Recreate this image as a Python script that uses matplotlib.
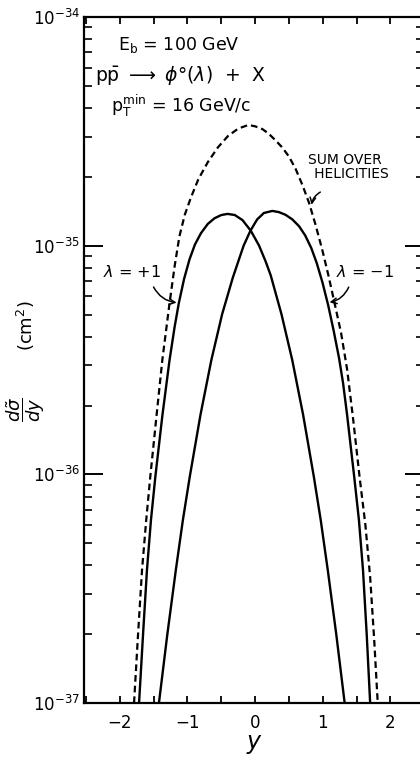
import numpy as np
import matplotlib
matplotlib.use("Agg")
import matplotlib.pyplot as plt

# rapidity distribution of phi0 production, p pbar at E_b = 100 GeV
# y values and log10(d sigma / dy)
y_sum = [-1.79, -1.735, -1.672, -1.61, -1.55, -1.46, -1.372, -1.265, -1.19, -1.12,
         -1.04, -0.95, -0.84, -0.70, -0.55, -0.40, -0.25, -0.10, 0.0, 0.107, 0.2,
         0.304, 0.40, 0.50, 0.60, 0.70, 0.80, 0.89, 0.99, 1.08, 1.17, 1.27, 1.36,
         1.45, 1.544, 1.63, 1.701, 1.76, 1.813]
lg_sum = [-37.0, -36.72, -36.418, -36.2, -36.01, -35.75, -35.5, -35.251, -35.09, -34.96,
          -34.865, -34.79, -34.71, -34.635, -34.57, -34.52, -34.488, -34.472, -34.478, -34.49, -34.51,
          -34.54, -34.57, -34.61, -34.665, -34.735, -34.815, -34.905, -35.015, -35.125, -35.245, -35.38, -35.54,
          -35.76, -36.01, -36.22, -36.45, -36.72, -37.0]

y_plus = [-1.716, -1.655, -1.599, -1.54, -1.475, -1.37, -1.265, -1.19, -1.128, -1.05,
          -0.97, -0.89, -0.80, -0.70, -0.60, -0.50, -0.407, -0.30, -0.187, -0.063, 0.059,
          0.157, 0.231, 0.39, 0.549, 0.71, 0.868, 0.97, 1.074, 1.2, 1.324]
lg_plus = [-37.0, -36.69, -36.418, -36.2, -36.01, -35.74, -35.5, -35.355, -35.251, -35.145,
           -35.06, -34.995, -34.945, -34.905, -34.88, -34.866, -34.861, -34.866, -34.888, -34.935, -35.0,
           -35.07, -35.13, -35.3, -35.5, -35.74, -36.01, -36.2, -36.418, -36.7, -37.0]

y_minus = [-1.422, -1.298, -1.172, -1.068, -0.966, -0.808, -0.647, -0.488, -0.33, -0.17,
           -0.07, 0.03, 0.13, 0.254, 0.35, 0.45, 0.55, 0.65, 0.74, 0.83, 0.91, 0.995,
           1.08, 1.16, 1.24, 1.30, 1.36, 1.465, 1.535, 1.595, 1.65, 1.701]
lg_minus = [-37.0, -36.7, -36.418, -36.2, -36.01, -35.74, -35.5, -35.3, -35.14, -35.0,
            -34.935, -34.885, -34.857, -34.848, -34.853, -34.865, -34.885, -34.915, -34.955, -35.01, -35.075, -35.16,
            -35.26, -35.37, -35.49, -35.6, -35.74, -36.01, -36.2, -36.418, -36.7, -37.0]

x_ticks = [-2, -1, 0, 1, 2]
y_ticks = [1e-37, 1e-36, 1e-35, 1e-34]
y_ticklabels = [r'$10^{-37}$', r'$10^{-36}$', r'$10^{-35}$', r'$10^{-34}$']

plt.rcParams['font.family'] = ['DejaVu Sans']
plt.rcParams['mathtext.fontset'] = 'dejavusans'

fig = plt.figure(figsize=(4.2, 7.6), dpi=100)
ax = fig.add_axes([0.2, 0.075, 0.81, 0.9026])

ax.plot(y_sum, 10.0 ** np.array(lg_sum), color='black', lw=1.6, ls=(0, (3, 1.8)))
ax.plot(y_plus, 10.0 ** np.array(lg_plus), color='black', lw=1.7)
ax.plot(y_minus, 10.0 ** np.array(lg_minus), color='black', lw=1.7)

ax.set_yscale('log')
ax.set_xlim(-2.53, 2.47)
ax.set_ylim(1e-37, 1e-34)

for s in ax.spines.values():
    s.set_linewidth(1.6)

ax.set_xticks(x_ticks)
ax.set_xticklabels(['\u22122', '\u22121', '0', '1', '2'], fontsize=12)
ax.set_xticks(np.arange(-2.5, 2.51, 0.5), minor=True)
ax.tick_params(axis='x', which='both', direction='in', top=True, length=5, width=1.3, pad=8)

ax.set_yticks(y_ticks)
ax.set_yticklabels(y_ticklabels, fontsize=12)
ax.yaxis.set_minor_locator(matplotlib.ticker.LogLocator(base=10, subs=np.arange(2, 10)))
ax.yaxis.set_minor_formatter(matplotlib.ticker.NullFormatter())
ax.tick_params(axis='y', which='major', direction='in', right=True, length=14, width=1.4, pad=3)
ax.tick_params(axis='y', which='minor', direction='in', right=True, length=6, width=1.2)

# axis labels: script-style y, rotated d(sigma~)/dy with units
ax.set_xlabel(r'$y$', fontsize=17, labelpad=0)
fig.text(0.062, 0.462, r'$\dfrac{d\tilde{\sigma}}{dy}$', rotation=90,
         fontsize=13, ha='center', va='center')
fig.text(0.062, 0.572, r'(cm$^2$)', rotation=90, fontsize=13, ha='center', va='center')

ax.text(-1.13, 10 ** -34.122, r'E$_\mathrm{b}$ = 100 GeV', fontsize=12.5, ha='center', va='center')
ax.text(-1.10, 10 ** -34.254, r'p$\bar{\mathrm{p}}$ $\longrightarrow$ $\phi$°($\lambda$)  +  X',
        fontsize=13.5, ha='center', va='center')
ax.text(-1.10, 10 ** -34.39, r'p$_\mathrm{T}^\mathrm{min}$ = 16 GeV/c', fontsize=12.5,
        ha='center', va='center')

ax.text(1.32, 10 ** -34.657, 'SUM OVER\n   HELICITIES', fontsize=10, ha='center', va='center',
        linespacing=1.0)
ax.annotate('', xy=(0.83, 10 ** -34.833), xytext=(1.0, 10 ** -34.76),
            arrowprops=dict(arrowstyle='->', color='black', lw=1.1,
                            connectionstyle='arc3,rad=0.3'))

ax.text(-1.82, 10 ** -35.113, r'$\lambda$ = +1', fontsize=11.5, ha='center', va='center')
ax.annotate('', xy=(-1.12, 10 ** -35.25), xytext=(-1.52, 10 ** -35.17),
            arrowprops=dict(arrowstyle='->', color='black', lw=1.1,
                            connectionstyle='arc3,rad=0.3'))

ax.text(1.62, 10 ** -35.113, r'$\lambda$ = $-$1', fontsize=11.5, ha='center', va='center')
ax.annotate('', xy=(1.06, 10 ** -35.25), xytext=(1.40, 10 ** -35.17),
            arrowprops=dict(arrowstyle='->', color='black', lw=1.1,
                            connectionstyle='arc3,rad=-0.3'))

fig.savefig('out.png', dpi=100)
